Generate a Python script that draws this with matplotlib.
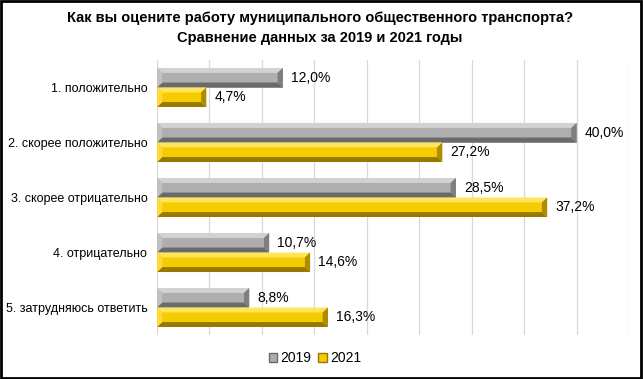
import matplotlib.pyplot as plt
from matplotlib.patches import Polygon, Rectangle, Patch

categories = ['1. положительно', '2. скорее положительно', '3. скорее отрицательно',
              '4. отрицательно', '5. затрудняюсь ответить']
values_2019 = [12.0, 40.0, 28.5, 10.7, 8.8]
values_2021 = [4.7, 27.2, 37.2, 14.6, 16.3]
years = ['2019', '2021']

# face, top, bottom, right-end, left-end
gray_tones = ['#aeaeae', '#d2d2d2', '#6a6a6a', '#7e7e7e', '#c0c0c0']
gold_tones = ['#f4cc00', '#ffe45e', '#987900', '#ae8c00', '#ffd93c']

plt.rcParams['font.family'] = ['Liberation Sans', 'DejaVu Sans']

fig = plt.figure(figsize=(6.43, 3.79), dpi=100)
ax = fig.add_axes([157 / 643, 1 - 335 / 379, (629 - 157) / 643, (335 - 60) / 379])

bar_h = 0.355
bx = 0.5    # bevel width in % units
by = 0.09   # bevel height in category units


def bevel_bar(ax, y_top, value, tones):
    y_bot = y_top + bar_h
    x0, x1 = 0, value
    face, top, bottom, right, left = tones
    ax.add_patch(Rectangle((x0, y_top), value, bar_h, facecolor=face, edgecolor='none', zorder=3))
    ax.add_patch(Polygon([(x0, y_top), (x1, y_top), (x1 - bx, y_top + by), (x0 + bx, y_top + by)],
                         facecolor=top, edgecolor='none', zorder=4))
    ax.add_patch(Polygon([(x0, y_bot), (x1, y_bot), (x1 - bx, y_bot - by), (x0 + bx, y_bot - by)],
                         facecolor=bottom, edgecolor='none', zorder=4))
    ax.add_patch(Polygon([(x1, y_top), (x1, y_bot), (x1 - bx, y_bot - by), (x1 - bx, y_top + by)],
                         facecolor=right, edgecolor='none', zorder=4))
    ax.add_patch(Polygon([(x0, y_top), (x0, y_bot), (x0 + bx, y_bot - by), (x0 + bx, y_top + by)],
                         facecolor=left, edgecolor='none', zorder=4))
    ax.text(value + 0.75, y_top + bar_h / 2, f'{value:.1f}%'.replace('.', ','),
            va='center', ha='left', fontsize=10, zorder=5)


for i, (v19, v21) in enumerate(zip(values_2019, values_2021)):
    bevel_bar(ax, i - bar_h, v19, gray_tones)
    bevel_bar(ax, i, v21, gold_tones)

ax.set_xlim(0, 45)
ax.set_ylim(4.5, -0.5)
ax.set_xticks(range(0, 50, 5))
ax.set_xticklabels([])
ax.tick_params(axis='x', length=0)
ax.set_yticks(range(len(categories)))
ax.set_yticklabels(categories, fontsize=9)
ax.tick_params(axis='y', length=0, pad=7)
ax.grid(axis='x', color='#d9d9d9', linewidth=0.9, zorder=0)
ax.set_axisbelow(True)
for s in ax.spines.values():
    s.set_visible(False)

fig.text(0.497, 1 - 18 / 379, 'Как вы оцените работу муниципального общественного транспорта?',
         ha='center', va='center', fontsize=10.5, fontweight='bold',
         family=['Liberation Sans Narrow', 'Liberation Sans'])
fig.text(0.497, 1 - 38 / 379, 'Сравнение данных за 2019 и 2021 годы',
         ha='center', va='center', fontsize=10.5, fontweight='bold',
         family=['Liberation Sans Narrow', 'Liberation Sans'])

handles = [Patch(facecolor=gray_tones[0], edgecolor=gray_tones[2], label=years[0]),
           Patch(facecolor=gold_tones[0], edgecolor=gold_tones[2], label=years[1])]
fig.legend(handles=handles, loc='center', bbox_to_anchor=(0.49, 1 - 358 / 379), ncol=2,
           frameon=False, fontsize=10, handlelength=0.6, handleheight=0.6,
           handletextpad=0.25, columnspacing=0.5)

fig.patches.append(Rectangle((0.0015, 0.002), 0.996, 0.995, transform=fig.transFigure,
                             fill=False, edgecolor='black', linewidth=2))

fig.savefig('out.png', dpi=100)
